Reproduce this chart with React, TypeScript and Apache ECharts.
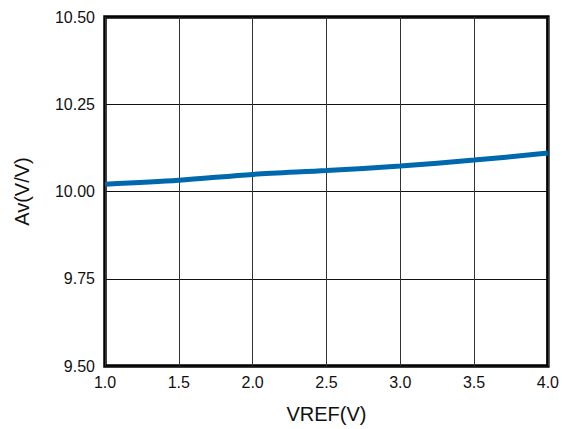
import React, { useEffect, useRef } from "react";
import * as echarts from "echarts";

const vref = [1.0, 1.5, 2.0, 2.5, 3.0, 3.5, 4.0];
const gain = [10.021, 10.032, 10.049, 10.06, 10.073, 10.09, 10.11];
const yTicks = ["9.50", "9.75", "10.00", "10.25", "10.50"];

export default function App() {
  const ref = useRef<HTMLDivElement>(null);
  useEffect(() => {
    const chart = echarts.init(ref.current!, null, { renderer: "svg" });
    const font = "Liberation Sans, Arial, sans-serif";
    chart.setOption({
      animation: false,
      backgroundColor: "#ffffff",
      grid: {
        left: 105,
        right: 10,
        top: 17,
        bottom: 59,
        show: true,
        borderColor: "#000",
        borderWidth: 3.5,
        backgroundColor: "transparent",
      },
      xAxis: {
        type: "value",
        min: 1.0,
        max: 4.0,
        interval: 0.5,
        name: "VREF(V)",
        nameLocation: "middle",
        nameGap: 38,
        nameTextStyle: { fontFamily: font, fontSize: 20, color: "#111" },
        axisLine: { show: false },
        axisTick: { show: false },
        axisLabel: {
          margin: 8,
          fontFamily: font,
          fontSize: 16,
          color: "#111",
          formatter: (v: number) => v.toFixed(1),
        },
        splitLine: { show: true, lineStyle: { color: "#333", width: 1 } },
      },
      yAxis: {
        type: "value",
        min: 9.5,
        max: 10.5,
        interval: 0.25,
        name: "Av(V/V)",
        nameLocation: "middle",
        nameGap: 73,
        nameTextStyle: { fontFamily: font, fontSize: 20, color: "#111" },
        axisLine: { show: false },
        axisTick: { show: false },
        axisLabel: {
          margin: 10,
          fontFamily: font,
          fontSize: 16,
          color: "#111",
          formatter: (v: number) => {
            const idx = Math.round((v - 9.5) / 0.25);
            return yTicks[idx] ?? v.toFixed(2);
          },
        },
        splitLine: { show: true, lineStyle: { color: "#111", width: 1 } },
      },
      series: [
        {
          type: "line",
          data: vref.map((x, i) => [x, gain[i]]),
          smooth: 0.3,
          showSymbol: false,
          lineStyle: { color: "#0068AC", width: 5 },
          z: 3,
        },
      ],
    });
    return () => chart.dispose();
  }, []);
  return (
    <div
      ref={ref}
      style={{ position: "fixed", left: 0, top: 0, width: 562, height: 429 }}
    />
  );
}
